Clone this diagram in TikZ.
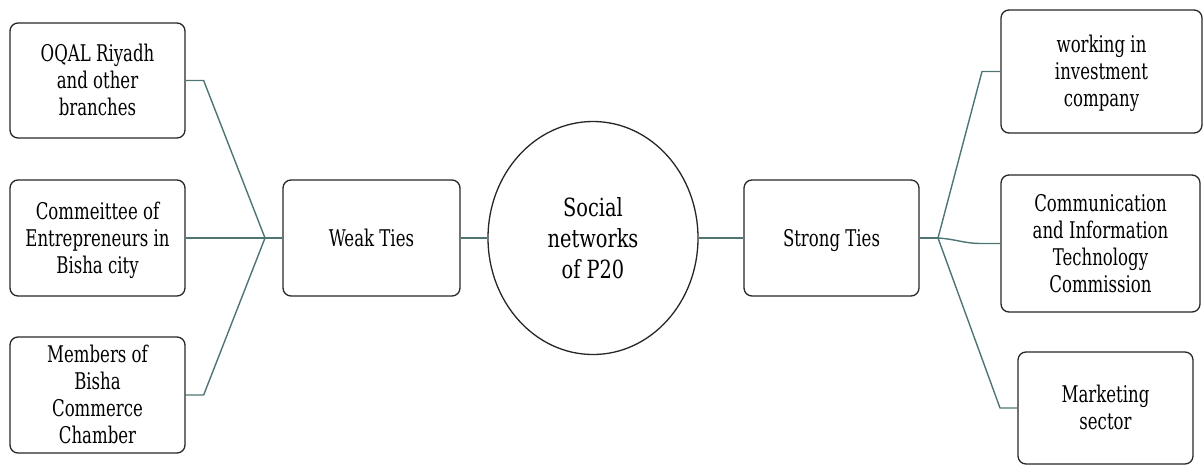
\documentclass[tikz,border=0pt]{standalone}
\usepackage{fontspec}
\setmainfont{DejaVu Serif Condensed}
\usetikzlibrary{shapes.geometric}
\definecolor{linkcol}{HTML}{4E7474}
% a centred stack of lines, squeezed horizontally by the given factor and
% set a little lower inside its box
\newcommand{\narrowtext}[2]{\raisebox{-3pt}[\height][\depth]{%
  \scalebox{#1}[1]{\begin{tabular}{@{}c@{}}#2\end{tabular}}}}
\begin{document}
\begin{tikzpicture}[x=1pt,y=-1pt,
  box/.style={draw=black!85, line width=1.3pt, rounded corners=8pt,
    inner sep=2pt, font=\fontsize{23}{27}\selectfont},
  hub/.style={draw=black!85, line width=1.3pt, ellipse, inner sep=0pt,
    minimum width=210pt, minimum height=233pt, font=\fontsize{25}{31}\selectfont},
  link/.style={draw=linkcol, line width=1.4pt, line join=round}]
\useasboundingbox (0,0) rectangle (1204,466);

% left-hand contacts
\node[box, minimum width=175pt, minimum height=115pt] (L1) at (97.5,80.5)
  {\narrowtext{0.8}{OQAL Riyadh\\and other\\branches}};
\node[box, minimum width=175pt, minimum height=116pt] (L2) at (97.5,238)
  {\narrowtext{0.8}{Commeittee of\\Entrepreneurs in\\Bisha city}};
\node[box, minimum width=175pt, minimum height=116pt] (L3) at (97.5,395)
  {\narrowtext{0.8}{Members of\\Bisha\\Commerce\\Chamber}};

% centre
\node[box, minimum width=177pt, minimum height=116pt] (W) at (371.5,238)
  {\narrowtext{0.8}{Weak Ties}};
\node[hub] (C) at (593,238) {\narrowtext{0.86}{Social\\networks\\of P20}};
\node[box, minimum width=175pt, minimum height=116pt] (S) at (831.5,238)
  {\narrowtext{0.8}{Strong Ties}};

% right-hand contacts
\node[box, minimum width=201pt, minimum height=123pt] (R1) at (1101.5,71.5)
  {\narrowtext{0.8}{working in\\investment\\company}};
\node[box, minimum width=199pt, minimum height=137pt] (R2) at (1100.5,243.5)
  {\narrowtext{0.8}{Communication\\and Information\\Technology\\Commission}};
\node[box, minimum width=175pt, minimum height=112pt] (R3) at (1105.5,408)
  {\narrowtext{0.8}{Marketing\\sector}};

% branch points
\coordinate (jl) at (265,238);
\coordinate (jr) at (938,238);

% connectors
\draw[link] (L1.east) -- ++(18,0) -- (jl);
\draw[link] (L2.east) -- (jl);
\draw[link] (L3.east) -- ++(18,0) -- (jl);
\draw[link] (jl) -- (W.west);
\draw[link] (W.east) -- (C.west);
\draw[link] (C.east) -- (S.west);
\draw[link] (S.east) -- (jr);
\draw[link] (jr) -- (982,71.5) -- (R1.west);
\draw[link] (jr) .. controls (955,239) and (965,243.5) .. (980,243.5) -- (R2.west);
\draw[link] (jr) -- (1000,408) -- (R3.west);
\end{tikzpicture}
\end{document}
